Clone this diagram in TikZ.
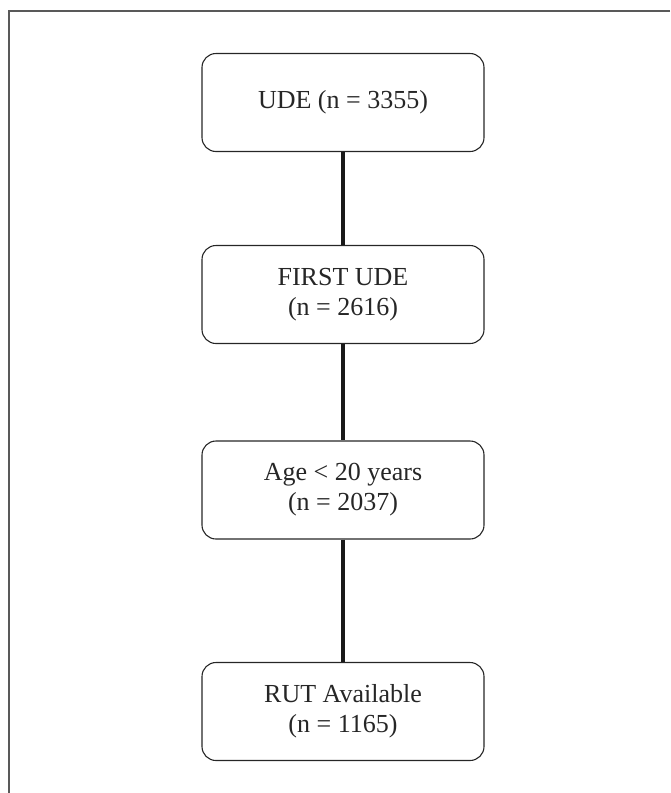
\documentclass[tikz,border=0pt]{standalone}
\usepackage{fontspec}
\setmainfont{Liberation Serif}
\begin{document}
\begin{tikzpicture}[x=1pt,y=-1pt,
  stagebox/.style={draw=black!85, line width=1.1pt, rounded corners=14pt,
    minimum width=282pt, minimum height=98pt, align=center,
    font=\fontsize{26}{30}\selectfont, text=black!85, inner sep=0pt},
  link/.style={line width=3.6pt, draw=black!90},
  frame/.style={line width=1.4pt, draw=black!65}]
\useasboundingbox (0,0) rectangle (670,793);
\coordinate (ftop) at (670,11);
\coordinate (fcorner) at (9,11);
\coordinate (fbot) at (9,793);
\draw[frame] (ftop) -- (fcorner) -- (fbot);
\node[stagebox] (b1) at (343,102.5) {UDE (n = 3355)};
\node[stagebox] (b2) at (343,294.5) {FIRST UDE\\(n = 2616)};
\node[stagebox] (b3) at (343,490) {Age < 20 years\\(n = 2037)};
\node[stagebox] (b4) at (343,711.5) {RUT Available\\(n = 1165)};
\draw[link] (b1.south) -- (b2.north);
\draw[link] (b2.south) -- (b3.north);
\draw[link] (b3.south) -- (b4.north);
\end{tikzpicture}
\end{document}
